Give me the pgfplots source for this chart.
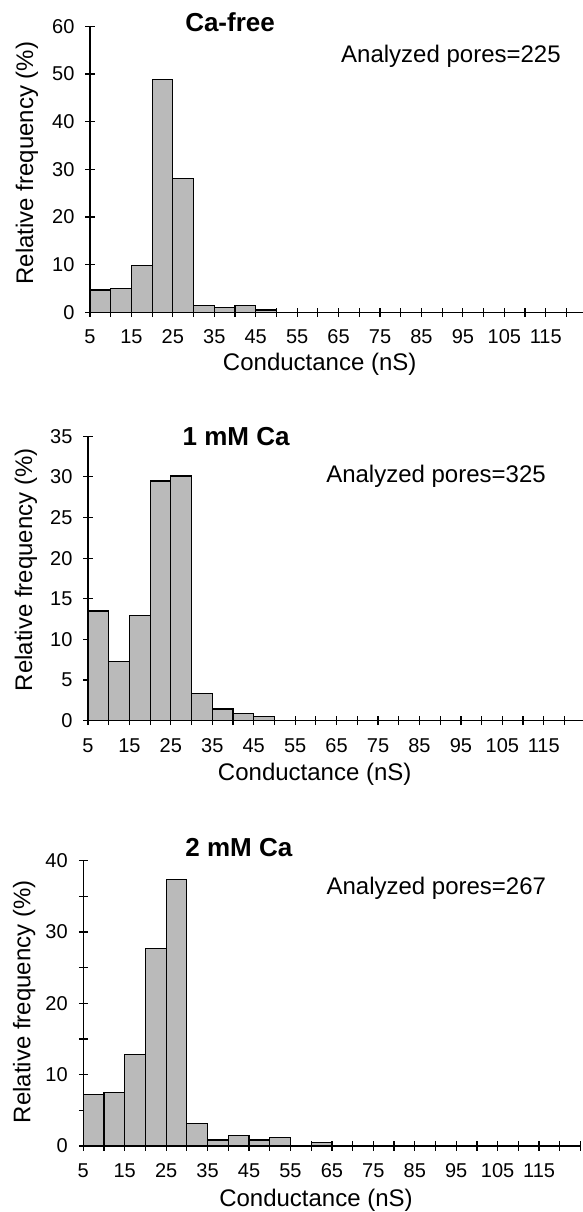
\documentclass[border=0pt]{standalone}
\usepackage{fontspec}
\setmainfont{Liberation Sans}
\usepackage{pgfplots}
\pgfplotsset{compat=1.18}
\definecolor{barfill}{RGB}{186,186,186}
\tikzset{
  ttl/.style={font=\bfseries\fontsize{13}{15}\selectfont},
  note/.style={font=\fontsize{12}{14}\selectfont},
}
\pgfplotsset{
  hist/.style={
    scale only axis, width=248.6pt, xmin=5, xmax=125, ymin=0,
    axis x line=bottom, axis y line=left,
    axis line style={-, line width=0.7pt},
    tick align=center, major tick length=4.5pt, minor tick length=4.5pt,
    every tick/.style={black, line width=0.6pt},
    xtick={5,15,...,115}, minor xtick={10,20,...,120,125},
    /pgf/number format/assume math mode=true,
    tick label style={font=\fontsize{10}{12}\selectfont},
    xticklabel style={yshift=-3pt},
    yticklabel style={xshift=-2pt},
    label style={font=\fontsize{12}{14}\selectfont},
    xlabel={Conductance (nS)}, ylabel={Relative frequency (\%)},
    anchor=south west, clip=false,
  },
  bars/.style={ybar interval, fill=barfill, draw=black, line width=0.6pt},
}
\begin{document}
\begin{tikzpicture}
\path[use as bounding box] (0,0) rectangle (291.5pt,606pt);
\clip (0,0) rectangle (291.5pt,606pt);
% Panel 1: Ca-free
\begin{axis}[hist, at={(45pt,449.85pt)}, height=142.95pt, ymax=60,
  ytick={0,10,...,60},
  xlabel style={at={(axis description cs:0.462,-0.182)}, anchor=center},
  ylabel style={at={(axis description cs:-0.1268,0.522)}, anchor=center}]
\addplot[bars] coordinates {(5,4.7) (10,5.0) (15,9.9) (20,48.9) (25,28.1) (30,1.4) (35,1.05) (40,1.4) (45,0.5) (50,0)};
\node[ttl] at (axis description cs:0.2817,1.016) {Ca-free};
\node[note] at (axis description cs:0.726,0.894) {Analyzed pores=225};
\end{axis}
% Panel 2: 1 mM Ca
\begin{axis}[hist, at={(44pt,245.65pt)}, height=142.25pt, ymax=35,
  ytick={0,5,...,35},
  xlabel style={at={(axis description cs:0.456,-0.19)}, anchor=center},
  ylabel style={at={(axis description cs:-0.1247,0.53)}, anchor=center}]
\addplot[bars] coordinates {(5,13.5) (10,7.3) (15,12.9) (20,29.5) (25,30.1) (30,3.3) (35,1.45) (40,0.85) (45,0.55) (50,0)};
\node[ttl] at (axis description cs:0.298,0.998) {1 mM Ca};
\node[note] at (axis description cs:0.700,0.860) {Analyzed pores=325};
\end{axis}
% Panel 3: 2 mM Ca
\begin{axis}[hist, at={(41.65pt,33pt)}, height=142.65pt, ymax=40,
  ytick={0,10,...,40}, minor ytick={5,15,25,35},
  xlabel style={at={(axis description cs:0.468,-0.189)}, anchor=center},
  ylabel style={at={(axis description cs:-0.119,0.505)}, anchor=center}]
\addplot[bars] coordinates {(5,7.2) (10,7.5) (15,12.8) (20,27.7) (25,37.4) (30,3.15) (35,0.85) (40,1.5) (45,0.85) (50,1.2) (55,0) (60,0.45) (65,0)};
\node[ttl] at (axis description cs:0.313,1.045) {2 mM Ca};
\node[note] at (axis description cs:0.710,0.904) {Analyzed pores=267};
\end{axis}
\end{tikzpicture}
\end{document}
